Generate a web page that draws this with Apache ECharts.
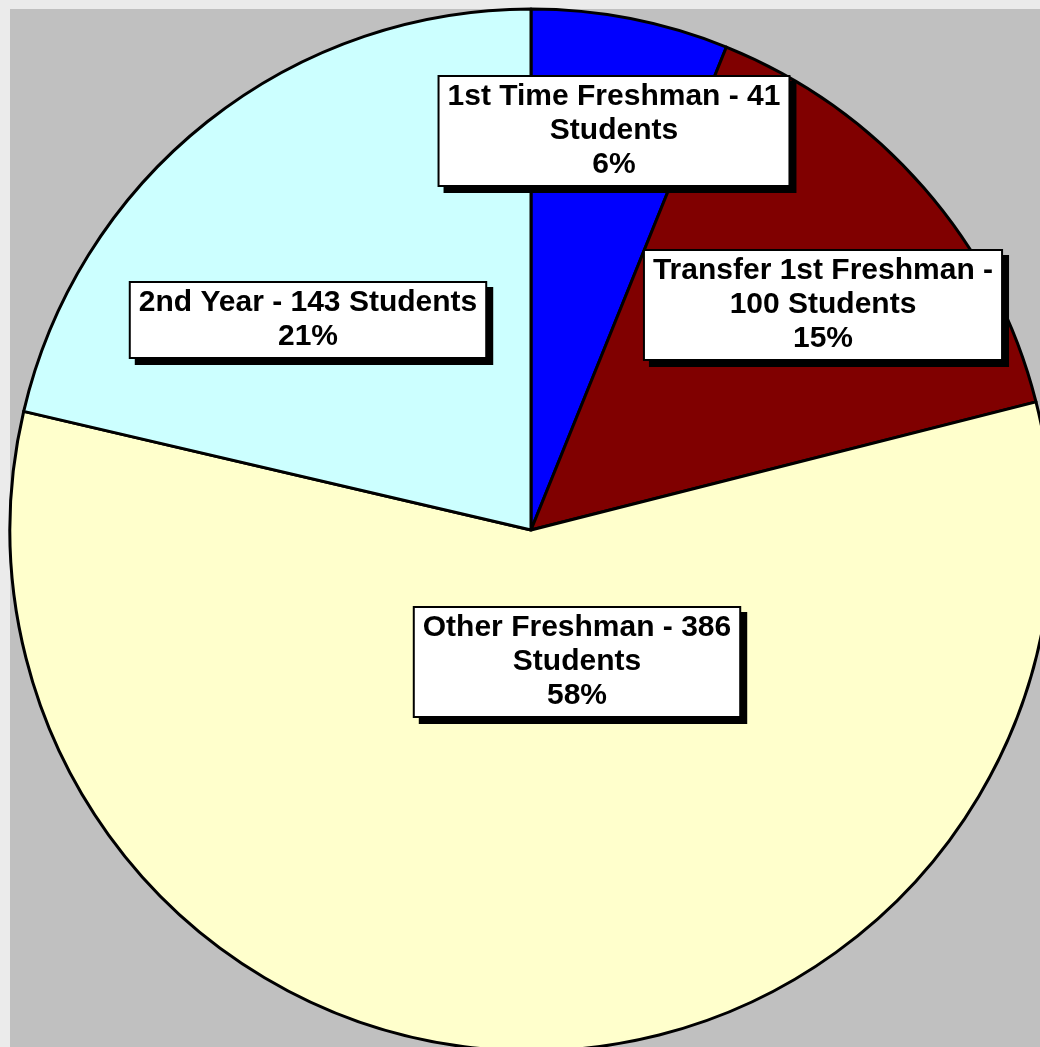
<!DOCTYPE html>
<html>
<head>
<meta charset="utf-8">
<script src="https://cdn.jsdelivr.net/npm/echarts@6/dist/echarts.min.js"></script>
<style>
  html, body { margin: 0; padding: 0; background: #ebebeb; }
  #main { width: 1040px; height: 1047px; }
</style>
</head>
<body>
<div id="main"></div>
<script>
// slices, clockwise from 12 o'clock
const categories = ['1st Time Freshman', 'Transfer 1st Freshman', 'Other Freshman', '2nd Year'];
const students = [41, 100, 386, 143];
const colors = ['#0000ff', '#800000', '#ffffcc', '#ccffff'];

// where each label's line breaks go: after the number, after the dash, or none
const wrapMode = ['num', 'dash', 'num', 'none'];
// label box centres (px), set by hand like the original
const labelCenters = [[614, 131], [823, 305], [577, 662], [308, 320]];

const chart = echarts.init(document.getElementById('main'), null, { renderer: 'canvas' });

function labelText(p) {
    const i = p.dataIndex;
    const pct = Math.round(p.percent) + '%';
    let first;
    if (wrapMode[i] === 'num') {
        first = p.name + ' - ' + p.value + '\nStudents';
    } else if (wrapMode[i] === 'dash') {
        first = p.name + ' -\n' + p.value + ' Students';
    } else {
        first = p.name + ' - ' + p.value + ' Students';
    }
    return first + '\n' + pct;
}

const option = {
    backgroundColor: '#ebebeb',
    animation: false,
    graphic: [{
        type: 'rect',
        z: -10,
        silent: true,
        shape: { x: 10, y: 9, width: 1040, height: 1047 },
        style: { fill: '#c0c0c0' }
    }],
    series: [{
        type: 'pie',
        center: [531, 530],
        radius: 521,
        startAngle: 90,
        clockwise: true,
        emphasis: { disabled: true },
        itemStyle: {
            borderColor: '#000',
            borderWidth: 3
        },
        label: {
            show: true,
            position: 'inside',
            formatter: labelText,
            color: '#000',
            fontFamily: 'Liberation Sans, Arial, sans-serif',
            fontWeight: 'bold',
            fontSize: 30,
            lineHeight: 34,
            align: 'center',
            verticalAlign: 'middle',
            backgroundColor: '#fff',
            borderColor: '#000',
            borderWidth: 2,
            padding: [3, 8],
            shadowColor: '#000',
            shadowBlur: 0,
            shadowOffsetX: 6,
            shadowOffsetY: 6
        },
        labelLine: { show: false },
        labelLayout: function (params) {
            const c = labelCenters[params.dataIndex];
            return { x: c[0], y: c[1], align: 'center', verticalAlign: 'middle' };
        },
        data: categories.map((name, i) => ({
            name: name,
            value: students[i],
            itemStyle: { color: colors[i] }
        }))
    }]
};

chart.setOption(option);
</script>
</body>
</html>
